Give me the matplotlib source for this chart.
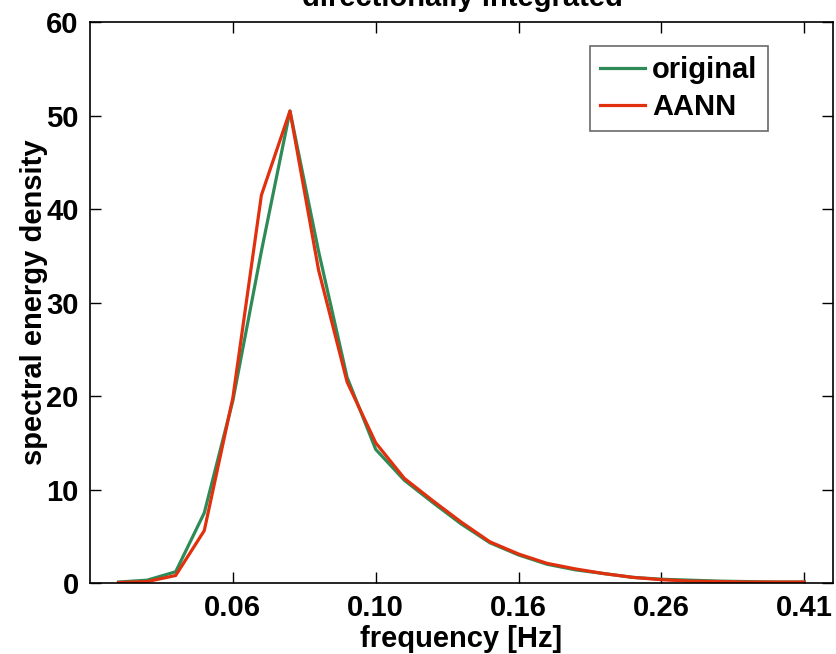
import matplotlib
matplotlib.use("Agg")
import matplotlib.pyplot as plt

plt.rcParams['font.family'] = ['Liberation Sans', 'DejaVu Sans']
plt.rcParams['font.weight'] = 'bold'

# frequency bin index (WAM style bins, f = 0.0418*1.1^(n-1))
idx = list(range(1, 26))
original = [0.1, 0.3, 1.2, 7.5, 19.5, 35.5, 50.5, 35.5, 22.0, 14.3,
            11.0, 8.6, 6.3, 4.3, 3.0, 2.0, 1.4, 1.0, 0.6, 0.4,
            0.3, 0.2, 0.15, 0.1, 0.1]
aann = [0.05, 0.15, 0.8, 5.6, 19.8, 41.5, 50.5, 33.5, 21.5, 15.0,
        11.2, 8.8, 6.5, 4.4, 3.1, 2.1, 1.5, 1.0, 0.6, 0.35,
        0.2, 0.15, 0.1, 0.1, 0.1]
tick_idx = [5, 10, 15, 20, 25]
tick_lab = ['0.06', '0.10', '0.16', '0.26', '0.41']

fig = plt.figure(figsize=(8.37, 6.54), dpi=100)
ax = fig.add_axes([0.1075, 0.1086, 0.8875, 0.8574])

ax.plot(idx, original, color='#2e8b57', lw=2.3, label='original')
ax.plot(idx, aann, color='#e0300e', lw=2.3, label='AANN')

ax.set_xlim(0, 26)
ax.set_ylim(0, 60)
ax.set_xticks(tick_idx)
ax.set_xticklabels(tick_lab)
ax.set_yticks([0, 10, 20, 30, 40, 50, 60])
ax.tick_params(direction='in', top=True, right=True, length=8, width=1,
               labelsize=21, pad=8)
for s in ax.spines.values():
    s.set_linewidth(1.2)

ax.set_xlabel('frequency [Hz]', fontsize=21, fontweight='bold', labelpad=2)
ax.set_ylabel('spectral energy density', fontsize=21, fontweight='bold', labelpad=-1)
fig.text(0.552, 0.991, 'directionally integrated', ha='center', va='baseline',
         fontsize=21, fontweight='bold')

leg = ax.legend(loc='upper right', bbox_to_anchor=(0.9125, 0.958), fontsize=21,
                frameon=True, fancybox=False, edgecolor='#444444',
                handlelength=1.55, handletextpad=0.25, borderpad=0.35,
                labelspacing=0.3, borderaxespad=0)
leg.get_frame().set_linewidth(1.2)

fig.savefig('out.png', dpi=100)
